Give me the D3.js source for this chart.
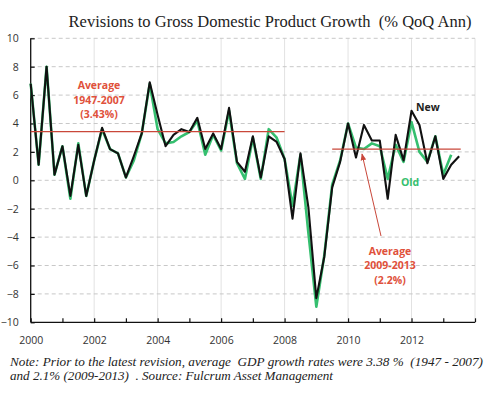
<!DOCTYPE html>
<html><head><meta charset="utf-8">
<script src="https://cdn.jsdelivr.net/npm/d3@7"></script>
<style>
html,body{margin:0;padding:0;background:#fff;}
svg{display:block;}
text.pre{white-space:pre;}
</style></head>
<body>
<svg id="c" width="500" height="396"></svg>
<script>
// Quarterly real GDP growth, % QoQ annualised (first point plotted at 2000.0, one point per quarter)
const newGrowth = [6.8,1.1,8.0,0.4,2.4,-1.1,2.5,-1.1,1.4,3.7,2.2,1.9,0.2,1.7,3.3,6.9,4.6,2.4,3.2,3.6,3.4,4.4,2.2,3.3,2.2,5.1,1.3,0.6,3.1,0.2,3.1,2.7,1.5,-2.7,1.9,-1.9,-8.3,-5.4,-0.5,1.3,4.0,1.6,3.9,2.8,2.8,-1.3,3.2,1.4,4.9,3.9,1.2,3.1,0.1,1.1,1.7];
const oldGrowth = [6.8,1.1,8.0,0.4,2.4,-1.3,2.6,-1.1,1.4,3.6,2.2,1.9,0.2,1.4,3.3,6.8,3.6,2.6,2.7,3.1,3.4,4.2,1.8,3.2,2.1,4.9,1.2,0.1,3.0,0.1,3.6,3.0,1.5,-1.8,1.8,-3.7,-8.9,-5.3,-0.3,1.4,4.0,2.3,2.2,2.6,2.4,0.1,2.5,1.3,4.1,2.0,1.3,3.1,0.4,1.8];
const startYear = 2000;
const yTicks = [-10,-8,-6,-4,-2,0,2,4,6,8,10];
const xTickLabels = [2000,2002,2004,2006,2008,2010,2012];
const xMinorTicks = [2000,2001,2002,2003,2004,2005,2006,2007,2008,2009,2010,2011,2012,2013,2014];
const avgLongRun = {value:3.43, from:2000, to:2008, label:["Average","1947-2007","(3.43%)"]};
const avgRecent = {value:2.2, from:2009.5, to:2013.55, label:["Average","2009-2013","(2.2%)"]};
const titleText = "Revisions to Gross Domestic Product Growth  (% QoQ Ann)";
const noteLines = ["Note: Prior to the latest revision, average  GDP growth rates were 3.38 %  (1947 - 2007)",
                   "and 2.1% (2009-2013)  . Source: Fulcrum Asset Management"];

const svg = d3.select("#c");
const L = 30.7, R = 475, T = 38.3, B = 322.3;
const x = d3.scaleLinear().domain([2000,2014]).range([L,R]);
const y = d3.scaleLinear().domain([-10,10]).range([B,T]);
const red = "#c9473a", redText = "#e0513b", green = "#35bf6f";

// title
svg.append("text").attr("class","pre").attr("x",270).attr("y",27).attr("text-anchor","middle")
  .attr("font-family","Liberation Serif, serif").attr("font-size",16.5).attr("fill","#222")
  .text(titleText);

// vertical grid
svg.append("g").selectAll("line").data(xTickLabels.slice(1).concat([2014])).join("line")
  .attr("x1",d=>x(d)).attr("x2",d=>x(d)).attr("y1",T).attr("y2",B)
  .attr("stroke","#e2e2e2").attr("stroke-width",1);
// horizontal dashed grid
svg.append("g").selectAll("line").data(yTicks.filter(d=>d>-10)).join("line")
  .attr("x1",L).attr("x2",R).attr("y1",d=>y(d)).attr("y2",d=>y(d))
  .attr("stroke","#c8c8c8").attr("stroke-width",1).attr("stroke-dasharray","4,3");

// axes
const yAxis = d3.axisLeft(y).tickValues(yTicks).tickSize(-4).tickPadding(12);
const gy = svg.append("g").attr("transform",`translate(${L},0)`).call(yAxis);
const xAxis = d3.axisBottom(x).tickValues(xMinorTicks).tickSize(-4)
  .tickFormat(d=>xTickLabels.includes(d)?String(d):"").tickPadding(14);
const gx = svg.append("g").attr("transform",`translate(0,${B})`).call(xAxis);
[gy,gx].forEach(g=>{
  g.select(".domain").attr("stroke","#111").attr("stroke-width",1.3);
  g.selectAll(".tick line").attr("stroke","#111").attr("stroke-width",1.2);
  g.selectAll("text").attr("font-family","Open Sans, sans-serif").attr("font-size",10.5).attr("fill","#333");
});
gy.select(".domain").attr("d",`M0,${B}V${T}`);
gx.select(".domain").attr("d",`M${L},0H${R}`);

// lines
const line = d3.line().x((d,i)=>x(startYear+i*0.25)).y(d=>y(d));
svg.append("path").datum(oldGrowth).attr("d",line).attr("fill","none")
  .attr("stroke",green).attr("stroke-width",2.6).attr("stroke-linejoin","round");
svg.append("path").datum(newGrowth).attr("d",line).attr("fill","none")
  .attr("stroke","#111").attr("stroke-width",2.1).attr("stroke-linejoin","round");

// average lines
[avgLongRun,avgRecent].forEach(a=>{
  svg.append("line").attr("x1",x(a.from)).attr("x2",x(a.to)).attr("y1",y(a.value)).attr("y2",y(a.value))
    .attr("stroke",red).attr("stroke-width",1.3);
});

function label(lines, cx, y0, dy){
  const t = svg.append("text").attr("text-anchor","middle").attr("font-family","Open Sans, sans-serif")
    .attr("font-size",10.5).attr("font-weight","bold").attr("fill",redText);
  lines.forEach((s,i)=>t.append("tspan").attr("x",cx).attr("y",y0+i*dy).text(s));
}
label(avgLongRun.label, 99, 89, 14.5);
label(avgRecent.label, 390, 255, 14.3);

// arrow
svg.append("defs").append("marker").attr("id","ah").attr("viewBox","0 0 10 10").attr("refX",9).attr("refY",5)
  .attr("markerWidth",7).attr("markerHeight",7).attr("orient","auto-start-reverse")
  .append("path").attr("d","M0,1L10,5L0,9z").attr("fill",red);
svg.append("line").attr("x1",381).attr("y1",236).attr("x2",362).attr("y2",154)
  .attr("stroke",red).attr("stroke-width",1).attr("marker-end","url(#ah)");

// series labels
svg.append("text").attr("x",416).attr("y",111).attr("font-family","Open Sans, sans-serif")
  .attr("font-size",10.5).attr("font-weight","bold").attr("fill","#222").text("New");
svg.append("text").attr("x",401).attr("y",186).attr("font-family","Open Sans, sans-serif")
  .attr("font-size",10.5).attr("font-weight","bold").attr("fill",green).text("Old");

// note
const widths = [473, 323];
noteLines.forEach((s,i)=>{
  svg.append("text").attr("class","pre").attr("x",10).attr("y",366+i*13.7)
    .attr("font-family","Liberation Serif, serif").attr("font-style","italic").attr("font-size",13).attr("fill","#222")
    .attr("textLength",widths[i]).attr("lengthAdjust","spacingAndGlyphs").text(s);
});
</script>
</body></html>
